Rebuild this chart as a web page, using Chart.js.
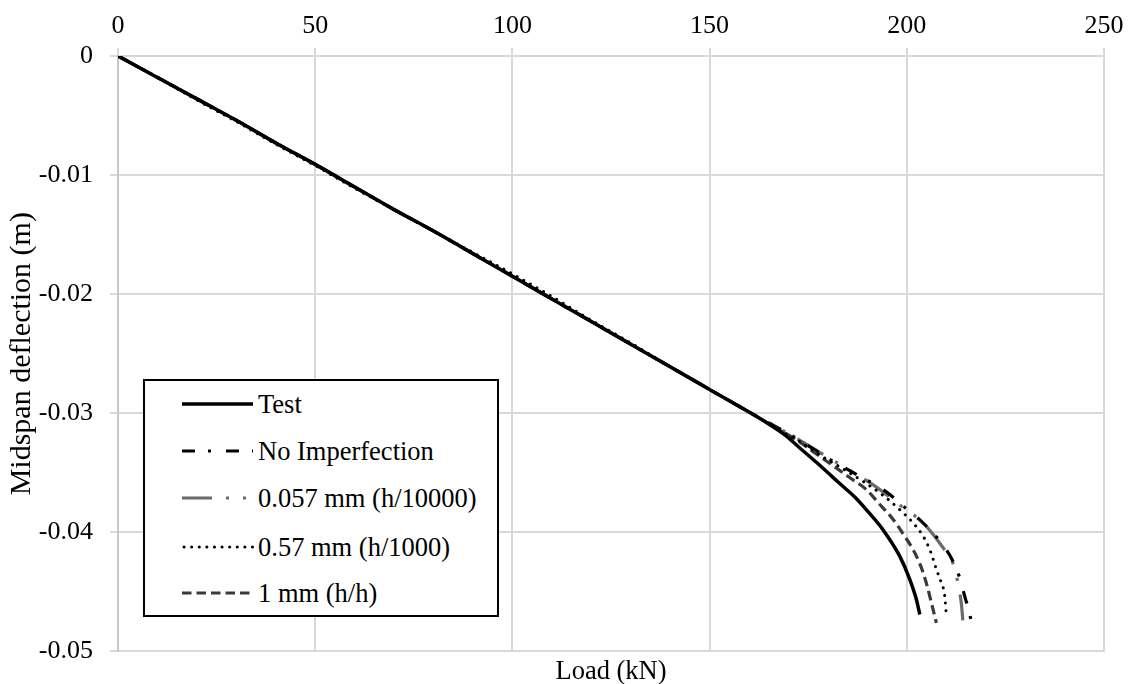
<!DOCTYPE html>
<html>
<head>
<meta charset="utf-8">
<script src="https://cdn.jsdelivr.net/npm/chart.js@4.4.1/dist/chart.umd.min.js"></script>
<style>
  html, body { margin: 0; padding: 0; background: #fff; }
  #wrap { position: relative; width: 1134px; height: 684px; }
  #c { position: absolute; left: 0; top: 0; }
  #legend { position: absolute; left: 143px; top: 379px; width: 356px; height: 238px;
            box-sizing: border-box; border: 2px solid #000; background: #fff; }
  .row { position: absolute; left: 0; height: 30px; }
  .row svg { position: absolute; left: 37px; top: 10px; }
  .row span { position: absolute; left: 113px; top: 0; line-height: 30px; white-space: nowrap;
              font-family: 'Liberation Serif'; font-size: 26.5px; color: #000; }
</style>
</head>
<body>
<div id="wrap">
  <canvas id="c" width="1134" height="684"></canvas>
  <div id="legend"></div>
</div>
<script>
// ---------- data ----------
const seriesNames = ['Test', 'No Imperfection', '0.057 mm (h/10000)', '0.57 mm (h/1000)', '1 mm (h/h)'];

const commonLoad = [0, 10, 20, 30, 40, 50, 60, 70, 80, 90, 100, 110, 120, 130, 140, 150, 160];
const commonDefl = [0, -0.0018, -0.0036, -0.0054, -0.0073, -0.0091, -0.0110, -0.0129, -0.0147, -0.0166,
                    -0.0185, -0.0204, -0.0223, -0.0242, -0.0261, -0.0280, -0.0299];
const dottedLinDefl = [0, -0.0018, -0.0037, -0.0055, -0.0074, -0.0092, -0.0111, -0.0129, -0.0147, -0.0165,
                       -0.0183, -0.0202, -0.0222, -0.0241, -0.0261, -0.0280, -0.0299];

const testLoad = [165, 169, 172.8, 177, 181, 184, 187, 190, 194, 198.2, 200.7, 202.4, 203.3];
const testDefl = [-0.0309, -0.0318, -0.0329, -0.0341, -0.0353, -0.0362, -0.0371, -0.0382, -0.0398, -0.0420, -0.0439, -0.0456, -0.0469];

const noImpLoad = [165, 172, 179.6, 187, 194.8, 199.8, 204.1, 209, 211.5, 213.4, 214.8, 215.7, 216.3];
const noImpDefl = [-0.0308, -0.0321, -0.0337, -0.0351, -0.0366, -0.0380, -0.0392, -0.0410, -0.0423, -0.0438, -0.0455, -0.0465, -0.0474];

const imp057Load = [165, 172, 178, 185.5, 191.4, 198.2, 204.1, 209.2, 211.7, 212.6, 213.4, 213.9, 214.2];
const imp057Defl = [-0.0308, -0.0321, -0.0333, -0.0348, -0.0360, -0.0377, -0.0392, -0.0413, -0.0426, -0.0437, -0.0450, -0.0462, -0.0474];

const imp57Load = [165, 172, 177.9, 184, 189.7, 194, 198.2, 201.3, 204.1, 206, 207.5, 208.7, 209.6, 210];
const imp57Defl = [-0.0309, -0.0322, -0.0335, -0.0347, -0.0359, -0.0369, -0.0381, -0.0391, -0.0403, -0.0416, -0.0431, -0.0442, -0.0453, -0.0469];

const imp1Load = [165, 172.8, 177, 181.3, 185.5, 189.7, 193, 196.5, 199, 201.5, 203.5, 204.9, 206.3, 207.5];
const imp1Defl = [-0.0309, -0.0324, -0.0334, -0.0344, -0.0354, -0.0364, -0.0376, -0.0389, -0.0401, -0.0414, -0.0428, -0.0442, -0.0460, -0.0476];

const xTickValues = [0, 50, 100, 150, 200, 250];
const xTickLabels = ['0', '50', '100', '150', '200', '250'];
const yTickValues = [0, -0.01, -0.02, -0.03, -0.04, -0.05];
const yTickLabels = ['0', '-0.01', '-0.02', '-0.03', '-0.04', '-0.05'];

// ---------- styles ----------
const styles = [
  { color: '#000000', width: 3.5, dash: [], cap: 'butt', order: 0 },
  { color: '#000000', width: 3.2, dash: [13, 13, 3, 15], cap: 'butt', order: 3 },
  { color: '#6b6b6b', width: 3.2, dash: [30, 14, 3, 14, 3, 14], cap: 'butt', order: 4 },
  { color: '#000000', width: 3.0, dash: [0.1, 7.5], cap: 'round', order: 1 },
  { color: '#3a3a3a', width: 3.2, dash: [9.5, 5], cap: 'butt', order: 2 }
];

function pts(lx, ly, tx, ty) {
  const xs = lx.concat(tx), ys = ly.concat(ty);
  return xs.map((x, i) => ({ x: x, y: ys[i] }));
}
const seriesData = [
  pts(commonLoad, commonDefl, testLoad, testDefl),
  pts(commonLoad, commonDefl, noImpLoad, noImpDefl),
  pts(commonLoad, commonDefl, imp057Load, imp057Defl),
  pts(commonLoad, dottedLinDefl, imp57Load, imp57Defl),
  pts(commonLoad, commonDefl, imp1Load, imp1Defl)
];

const FONT = "'Liberation Serif'";
const GRID = '#d9d9d9';

const datasets = seriesNames.map((n, i) => ({
  label: n,
  data: seriesData[i],
  showLine: true,
  borderColor: styles[i].color,
  borderWidth: styles[i].width,
  borderDash: styles[i].dash,
  borderCapStyle: styles[i].cap,
  borderJoinStyle: 'round',
  pointRadius: 0,
  pointHoverRadius: 0,
  fill: false,
  cubicInterpolationMode: 'monotone',
  order: styles[i].order
}));

new Chart(document.getElementById('c'), {
  type: 'scatter',
  data: { datasets: datasets },
  options: {
    responsive: false,
    animation: false,
    devicePixelRatio: 1,
    layout: { padding: { left: 0, right: 30, top: 0, bottom: 0 } },
    plugins: { legend: { display: false }, tooltip: { enabled: false } },
    scales: {
      x: {
        type: 'linear', position: 'top', min: 0, max: 250,
        afterBuildTicks: (s) => { s.ticks = xTickValues.map(v => ({ value: v })); },
        afterFit: (s) => { s.height = 56; },
        ticks: {
          padding: 6, color: '#000', font: { family: FONT, size: 26 },
          callback: (v) => xTickLabels[xTickValues.indexOf(v)]
        },
        grid: { color: GRID, lineWidth: 2, tickLength: 8, tickColor: GRID },
        border: { display: true, color: GRID, width: 2 }
      },
      x2: {
        type: 'linear', axis: 'x', position: 'bottom', min: 0, max: 250,
        afterFit: (s) => { s.height = 29; },
        ticks: { display: false },
        grid: { display: false },
        border: { display: false },
        title: { display: true, text: 'Load (kN)', color: '#000',
                 font: { family: FONT, size: 26.5, lineHeight: 1 }, padding: { top: 0, bottom: -5 } }
      },
      y: {
        type: 'linear', position: 'left', min: -0.05, max: 0,
        afterBuildTicks: (s) => { s.ticks = yTickValues.map(v => ({ value: v })); },
        afterFit: (s) => { s.width = 118; },
        ticks: {
          padding: 17, color: '#000', font: { family: FONT, size: 26 },
          callback: (v) => { const k = yTickValues.findIndex(t => Math.abs(t - v) < 1e-9); return k >= 0 ? yTickLabels[k] : ''; }
        },
        grid: { color: GRID, lineWidth: 2, tickLength: 8, tickColor: GRID },
        border: { display: true, color: '#c8c8c8', width: 2 },
        title: { display: true, text: 'Midspan deflection (m)', color: '#000',
                 font: { family: FONT, size: 30, lineHeight: 1 }, padding: { top: 7, bottom: 0 } }
      }
    }
  }
});

// ---------- legend (HTML, real text) ----------
const legend = document.getElementById('legend');
const rowTops = [8, 55, 102, 151, 197];
seriesNames.forEach((n, i) => {
  const row = document.createElement('div');
  row.className = 'row';
  row.style.top = rowTops[i] + 'px';
  const st = styles[i];
  const svgNS = 'http://www.w3.org/2000/svg';
  const svg = document.createElementNS(svgNS, 'svg');
  svg.setAttribute('width', '72'); svg.setAttribute('height', '10');
  const ln = document.createElementNS(svgNS, 'line');
  ln.setAttribute('x1', st.cap === 'round' ? '2' : '0'); ln.setAttribute('x2', '71');
  ln.setAttribute('y1', '5'); ln.setAttribute('y2', '5');
  ln.setAttribute('stroke', st.color);
  ln.setAttribute('stroke-width', st.width);
  ln.setAttribute('stroke-linecap', st.cap);
  if (st.dash.length) ln.setAttribute('stroke-dasharray', st.dash.join(' '));
  svg.appendChild(ln);
  const sp = document.createElement('span');
  sp.textContent = n;
  row.appendChild(svg);
  row.appendChild(sp);
  legend.appendChild(row);
});
</script>
</body>
</html>
